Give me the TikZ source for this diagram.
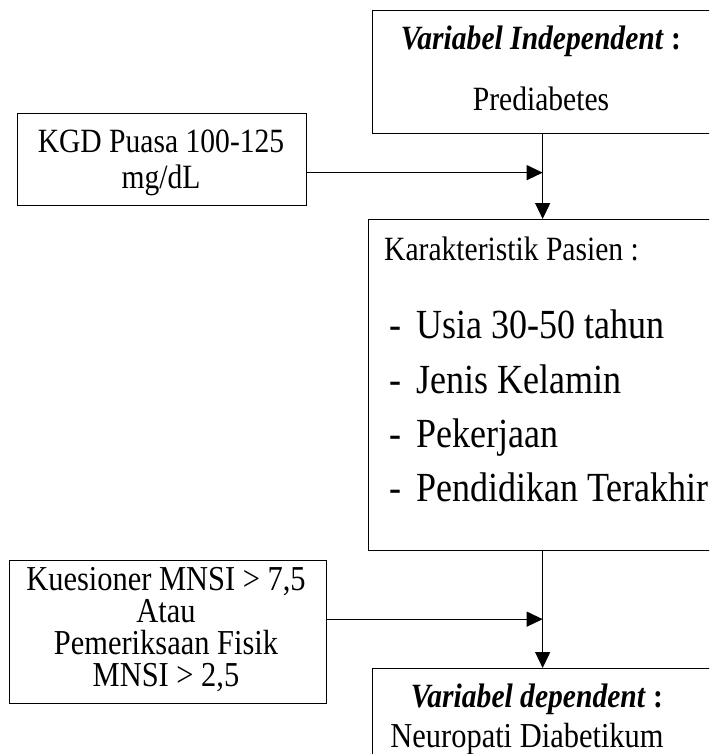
\documentclass[tikz,border=0pt]{standalone}
\usepackage{fontspec}
\setmainfont{Liberation Serif}[FakeStretch=0.87]
\usetikzlibrary{arrows.meta}

\tikzset{
  kotak/.style={draw, line width=1.3pt, inner sep=0pt, anchor=north west},
  teks/.style={font=\fontsize{34}{40}\selectfont, inner sep=0pt, anchor=base},
  teksbesar/.style={teks, font=\fontsize{35}{42}\selectfont},
  daftar/.style={font=\fontsize{41.4}{50}\selectfont, inner sep=0pt, anchor=base west},
  panah/.style={line width=1.3pt, -{Triangle[length=16pt,width=15pt]}}
}

\begin{document}
\begin{tikzpicture}[x=1pt,y=-1pt]
  \useasboundingbox (0,0) rectangle (709,754);
  \clip (0,0) rectangle (709,754);

  % Variabel independent
  \node[kotak, minimum width=340pt, minimum height=123pt] (indep) at (372,10) {};
  \node[teks] (indepjudul) at (541,50) {\textbf{\textit{Variabel Independent}} \textbf{:}};
  \node[teks] (indepisi) at (541,111) {Prediabetes};

  % KGD puasa
  \node[kotak, minimum width=289pt, minimum height=92pt] (kgd) at (17,113) {};
  \node[teks] (kgdsatu) at (161,153) {KGD Puasa 100-125};
  \node[teks] (kgddua) at (161,189) {mg/dL};

  % Karakteristik pasien
  \node[kotak, minimum width=348pt, minimum height=331pt] (pasien) at (368,219) {};
  \node[teks, anchor=base west] (pasienjudul) at (384,260) {Karakteristik Pasien :};
  \foreach \isi/\yy in {Usia 30-50 tahun/338, Jenis Kelamin/393,
                        Pekerjaan/447, Pendidikan Terakhir/501}{
    \node[daftar] at (389,\yy) {-};
    \node[daftar] at (416,\yy) {\isi};
  }

  % Kuesioner MNSI
  \node[kotak, minimum width=317pt, minimum height=143pt] (mnsi) at (9,560) {};
  \node[teksbesar] (mnsisatu) at (166,590) {Kuesioner MNSI > 7,5};
  \node[teksbesar] (mnsidua) at (166,622) {Atau};
  \node[teksbesar] (mnsitiga) at (166,654) {Pemeriksaan Fisik};
  \node[teksbesar] (mnsiempat) at (166,686) {MNSI > 2,5};

  % Variabel dependent
  \node[kotak, minimum width=340pt, minimum height=120pt] (dep) at (372,668) {};
  \node[teks] (depjudul) at (537,707) {\textbf{\textit{Variabel dependent}} \textbf{:}};
  \node[teksbesar] (depisi) at (527,747) {Neuropati Diabetikum};

  % Panah
  \coordinate (awal1) at ([yshift=-13pt]kgd.east);
  \coordinate (awal2) at ([yshift=13pt]mnsi.east);
  \coordinate (temu1) at (awal1 -| indep.south);
  \coordinate (temu2) at (awal2 -| indep.south);
  \draw[panah] (indep.south) -- (indep.south |- pasien.north);
  \draw[panah] (awal1) -- (temu1);
  \draw[panah] (indep.south |- pasien.south) -- (indep.south |- dep.north);
  \draw[panah] (awal2) -- (temu2);
\end{tikzpicture}
\end{document}
